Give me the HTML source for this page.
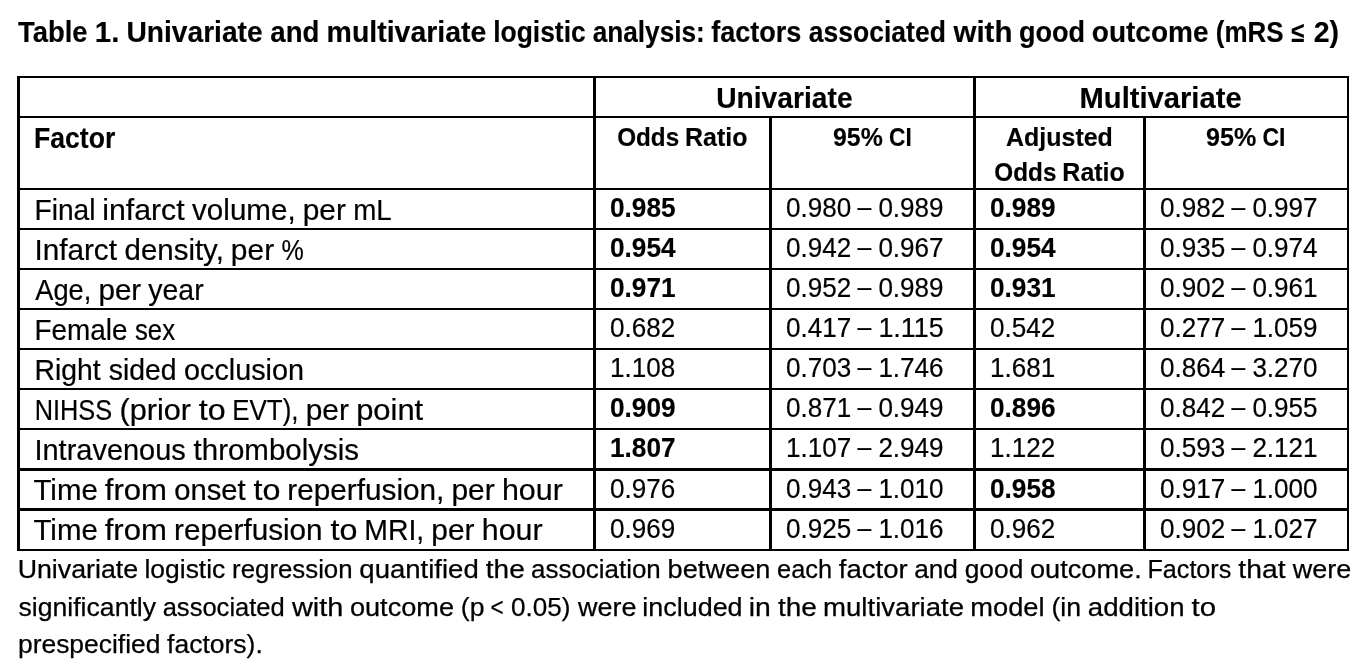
<!DOCTYPE html>
<html lang="en"><head><meta charset="utf-8">
<title>Table 1. Univariate and multivariate logistic analysis</title>
<style>*{margin:0;padding:0;box-sizing:border-box}
html,body{width:1366px;height:672px;overflow:hidden;background:#fff}
body{position:relative;font-family:"Liberation Sans",sans-serif;color:#000}
table{position:absolute;left:17px;top:76px;width:1332px;table-layout:fixed;border-collapse:separate;border-spacing:0}
td,th{padding:0;font-weight:normal;height:40px;border:0 solid #000;border-width:2px 0 0 3px}
td:last-child,th:last-child{border-right-width:2px}
.h2 th{height:72px}
.k td{border-top-width:3px}
.last td{height:43px;border-bottom-width:2px}
table .t{margin:-76px 0 0 -17px}
h1{font-size:inherit;font-weight:normal}
.t{position:absolute;white-space:pre;word-spacing:-0.277832em}
.w{display:inline-block;transform-origin:0 0;text-align:left}
.d{position:relative;top:-1px}
.b{font-weight:bold}
.big{font-size:28.6px;line-height:34px}
.sm{font-size:26.1px;line-height:31px}
.num{font-size:26.8px;line-height:32px}
.big{-webkit-text-stroke:0.2px #000}
.sm{-webkit-text-stroke:0.25px #000}
.num{-webkit-text-stroke:0.2px #000}
.b{-webkit-text-stroke:0.15px #000}
</style></head>
<body>
<h1><span class="t b big" style="left:18px;top:15px"><span class="w" style="width:76px;transform:scaleX(0.9589)">Table</span> <span class="w" style="width:32px;transform:translateX(0.80px) scaleX(1.0289)">1.</span> <span class="w" style="width:144px;transform:translateX(0.44px) scaleX(0.9850)">Univariate</span> <span class="w" style="width:56px;transform:translateX(0.27px) scaleX(0.9656)">and</span> <span class="w" style="width:167px;transform:translateX(0.59px) scaleX(0.9953)">multivariate</span> <span class="w" style="width:99px;transform:translateX(0.24px) scaleX(0.9234)">logistic</span> <span class="w" style="width:119px;transform:translateX(0.65px) scaleX(0.9167)">analysis:</span> <span class="w" style="width:97px;transform:translateX(0.23px) scaleX(0.9459)">factors</span> <span class="w" style="width:145px;transform:translateX(0.82px) scaleX(0.9271)">associated</span> <span class="w" style="width:66px;transform:translateX(0.45px) scaleX(1.0327)">with</span> <span class="w" style="width:72px;transform:translateX(0.03px) scaleX(0.9455)">good</span> <span class="w" style="width:124px;transform:translateX(0.79px) scaleX(0.9791)">outcome</span> <span class="w" style="width:76px;transform:translateX(0.80px) scaleX(0.9079)">(mRS</span> <span class="w" style="width:22px;transform:translateX(0.30px) scaleX(0.8375)">≤</span> <span class="w" style="transform:translateX(0.67px) scaleX(0.9971)">2)</span></span></h1>
<table><colgroup><col style="width:576px"><col style="width:176px"><col style="width:204px"><col style="width:170px"><col style="width:206px"></colgroup><thead>
<tr class="h1"><th></th><th colspan="2"><span class="t b big" style="left:716px;top:81px"><span class="w" style="transform:translateX(0.18px) scaleX(0.9865)">Univariate</span></span></th><th colspan="2"><span class="t b big" style="left:1079px;top:81px"><span class="w" style="transform:translateX(0.58px) scaleX(1.0196)">Multivariate</span></span></th></tr>
<tr class="h2"><th><span class="t b big" style="left:34px;top:121px"><span class="w" style="transform:translateX(0.04px) scaleX(0.9294)">Factor</span></span></th><th><span class="t b sm" style="left:617px;top:122px"><span class="w" style="width:68px;transform:translateX(0.14px) scaleX(0.9296)">Odds</span> <span class="w" style="transform:translateX(0.09px) scaleX(0.9568)">Ratio</span></span></th><th><span class="t b sm" style="left:833px;top:122px"><span class="w" style="width:56px;transform:translateX(0.02px) scaleX(0.9528)">95%</span> <span class="w" style="transform:scaleX(0.8713)">CI</span></span></th><th><span class="t b sm" style="left:1006px;top:122px"><span class="w" style="transform:translateX(0.01px) scaleX(0.9573)">Adjusted</span></span> <span class="t b sm" style="left:994px;top:157px"><span class="w" style="width:68px;transform:translateX(0.34px) scaleX(0.9303)">Odds</span> <span class="w" style="transform:translateX(0.34px) scaleX(0.9575)">Ratio</span></span></th><th><span class="t b sm" style="left:1206px;top:122px"><span class="w" style="width:56px;transform:translateX(0.02px) scaleX(0.9615)">95%</span> <span class="w" style="transform:translateX(0.51px) scaleX(0.8792)">CI</span></span></th></tr>
</thead><tbody>
<tr><td><span class="t big" style="left:34px;top:193px"><span class="w" style="width:68px;transform:translateX(0.50px) scaleX(0.9842)">Final</span> <span class="w" style="width:90px;transform:translateX(0.21px) scaleX(1.0581)">infarct</span> <span class="w" style="width:110px;transform:translateX(0.08px) scaleX(1.0343)">volume,</span> <span class="w" style="width:51px;transform:translateX(0.66px) scaleX(1.0456)">per</span> <span class="w" style="transform:translateX(0.27px) scaleX(0.9696)">mL</span></span></td><td><span class="t b num" style="left:610px;top:192px"><span class="w" style="transform:scaleX(0.9785)">0.985</span></span></td><td><span class="t num" style="left:786px;top:192px"><span class="w" style="width:71px;transform:scaleX(0.9722)">0.980</span> <span class="w d" style="width:21px;transform:translateX(0.57px) scaleX(0.9221)">–</span> <span class="w" style="transform:translateX(0.38px) scaleX(0.9722)">0.989</span></span></td><td><span class="t b num" style="left:990px;top:192px"><span class="w" style="transform:scaleX(0.9785)">0.989</span></span></td><td><span class="t num" style="left:1160px;top:192px"><span class="w" style="width:71px;transform:scaleX(0.9722)">0.982</span> <span class="w d" style="width:21px;transform:translateX(0.57px) scaleX(0.9221)">–</span> <span class="w" style="transform:translateX(0.38px) scaleX(0.9722)">0.997</span></span></td></tr>
<tr><td><span class="t big" style="left:34px;top:233px"><span class="w" style="width:90px;transform:translateX(0.38px) scaleX(1.0397)">Infarct</span> <span class="w" style="width:106px;transform:translateX(0.54px) scaleX(1.0296)">density,</span> <span class="w" style="width:51px;transform:translateX(0.85px) scaleX(1.0464)">per</span> <span class="w" style="transform:translateX(0.47px) scaleX(0.8761)">%</span></span></td><td><span class="t b num" style="left:610px;top:232px"><span class="w" style="transform:scaleX(0.9785)">0.954</span></span></td><td><span class="t num" style="left:786px;top:232px"><span class="w" style="width:71px;transform:scaleX(0.9722)">0.942</span> <span class="w d" style="width:21px;transform:translateX(0.57px) scaleX(0.9221)">–</span> <span class="w" style="transform:translateX(0.38px) scaleX(0.9722)">0.967</span></span></td><td><span class="t b num" style="left:990px;top:232px"><span class="w" style="transform:scaleX(0.9785)">0.954</span></span></td><td><span class="t num" style="left:1160px;top:232px"><span class="w" style="width:71px;transform:scaleX(0.9722)">0.935</span> <span class="w d" style="width:21px;transform:translateX(0.57px) scaleX(0.9221)">–</span> <span class="w" style="transform:translateX(0.38px) scaleX(0.9722)">0.974</span></span></td></tr>
<tr><td><span class="t big" style="left:35px;top:273px"><span class="w" style="width:63px;transform:translateX(0.20px) scaleX(0.9537)">Age,</span> <span class="w" style="width:50px;transform:translateX(0.40px) scaleX(1.0367)">per</span> <span class="w" style="transform:translateX(0.34px) scaleX(0.9939)">year</span></span></td><td><span class="t b num" style="left:610px;top:272px"><span class="w" style="transform:scaleX(0.9785)">0.971</span></span></td><td><span class="t num" style="left:786px;top:272px"><span class="w" style="width:71px;transform:scaleX(0.9722)">0.952</span> <span class="w d" style="width:21px;transform:translateX(0.57px) scaleX(0.9221)">–</span> <span class="w" style="transform:translateX(0.38px) scaleX(0.9722)">0.989</span></span></td><td><span class="t b num" style="left:990px;top:272px"><span class="w" style="transform:scaleX(0.9785)">0.931</span></span></td><td><span class="t num" style="left:1160px;top:272px"><span class="w" style="width:71px;transform:scaleX(0.9722)">0.902</span> <span class="w d" style="width:21px;transform:translateX(0.57px) scaleX(0.9221)">–</span> <span class="w" style="transform:translateX(0.38px) scaleX(0.9722)">0.961</span></span></td></tr>
<tr><td><span class="t big" style="left:34px;top:313px"><span class="w" style="width:100px;transform:translateX(0.52px) scaleX(0.9754)">Female</span> <span class="w" style="transform:translateX(0.99px) scaleX(0.9012)">sex</span></span></td><td><span class="t num" style="left:610px;top:312px"><span class="w" style="transform:scaleX(0.9722)">0.682</span></span></td><td><span class="t num" style="left:786px;top:312px"><span class="w" style="width:71px;transform:scaleX(0.9722)">0.417</span> <span class="w d" style="width:21px;transform:translateX(0.57px) scaleX(0.9221)">–</span> <span class="w" style="transform:translateX(0.38px) scaleX(1.0019)">1.115</span></span></td><td><span class="t num" style="left:990px;top:312px"><span class="w" style="transform:scaleX(0.9722)">0.542</span></span></td><td><span class="t num" style="left:1160px;top:312px"><span class="w" style="width:71px;transform:scaleX(0.9722)">0.277</span> <span class="w d" style="width:21px;transform:translateX(0.57px) scaleX(0.9221)">–</span> <span class="w" style="transform:translateX(0.38px) scaleX(0.9722)">1.059</span></span></td></tr>
<tr><td><span class="t big" style="left:34px;top:353px"><span class="w" style="width:74px;transform:translateX(0.48px) scaleX(0.9913)">Right</span> <span class="w" style="width:76px;transform:translateX(0.68px) scaleX(0.9929)">sided</span> <span class="w" style="transform:translateX(0.01px) scaleX(1.0065)">occlusion</span></span></td><td><span class="t num" style="left:610px;top:352px"><span class="w" style="transform:scaleX(0.9722)">1.108</span></span></td><td><span class="t num" style="left:786px;top:352px"><span class="w" style="width:71px;transform:scaleX(0.9722)">0.703</span> <span class="w d" style="width:21px;transform:translateX(0.57px) scaleX(0.9221)">–</span> <span class="w" style="transform:translateX(0.38px) scaleX(0.9722)">1.746</span></span></td><td><span class="t num" style="left:990px;top:352px"><span class="w" style="transform:scaleX(0.9722)">1.681</span></span></td><td><span class="t num" style="left:1160px;top:352px"><span class="w" style="width:71px;transform:scaleX(0.9722)">0.864</span> <span class="w d" style="width:21px;transform:translateX(0.57px) scaleX(0.9221)">–</span> <span class="w" style="transform:translateX(0.38px) scaleX(0.9722)">3.270</span></span></td></tr>
<tr><td><span class="t big" style="left:34px;top:393px"><span class="w" style="width:85px;transform:translateX(0.72px) scaleX(0.8861)">NIHSS</span> <span class="w" style="width:79px;transform:translateX(0.48px) scaleX(1.0726)">(prior</span> <span class="w" style="width:34px;transform:translateX(0.70px) scaleX(1.1271)">to</span> <span class="w" style="width:73px;transform:translateX(0.23px) scaleX(0.9063)">EVT),</span> <span class="w" style="width:51px;transform:translateX(0.74px) scaleX(1.0456)">per</span> <span class="w" style="transform:translateX(0.16px) scaleX(1.0809)">point</span></span></td><td><span class="t b num" style="left:610px;top:392px"><span class="w" style="transform:scaleX(0.9785)">0.909</span></span></td><td><span class="t num" style="left:786px;top:392px"><span class="w" style="width:71px;transform:scaleX(0.9722)">0.871</span> <span class="w d" style="width:21px;transform:translateX(0.57px) scaleX(0.9221)">–</span> <span class="w" style="transform:translateX(0.38px) scaleX(0.9722)">0.949</span></span></td><td><span class="t b num" style="left:990px;top:392px"><span class="w" style="transform:scaleX(0.9785)">0.896</span></span></td><td><span class="t num" style="left:1160px;top:392px"><span class="w" style="width:71px;transform:scaleX(0.9722)">0.842</span> <span class="w d" style="width:21px;transform:translateX(0.57px) scaleX(0.9221)">–</span> <span class="w" style="transform:translateX(0.38px) scaleX(0.9722)">0.955</span></span></td></tr>
<tr><td><span class="t big" style="left:34px;top:433px"><span class="w" style="width:159px;transform:translateX(0.44px) scaleX(1.0130)">Intravenous</span> <span class="w" style="transform:translateX(0.56px) scaleX(1.0307)">thrombolysis</span></span></td><td><span class="t b num" style="left:610px;top:432px"><span class="w" style="transform:scaleX(0.9785)">1.807</span></span></td><td><span class="t num" style="left:786px;top:432px"><span class="w" style="width:71px;transform:scaleX(0.9722)">1.107</span> <span class="w d" style="width:21px;transform:translateX(0.57px) scaleX(0.9221)">–</span> <span class="w" style="transform:translateX(0.38px) scaleX(0.9722)">2.949</span></span></td><td><span class="t num" style="left:990px;top:432px"><span class="w" style="transform:scaleX(0.9722)">1.122</span></span></td><td><span class="t num" style="left:1160px;top:432px"><span class="w" style="width:71px;transform:scaleX(0.9722)">0.593</span> <span class="w d" style="width:21px;transform:translateX(0.57px) scaleX(0.9221)">–</span> <span class="w" style="transform:translateX(0.38px) scaleX(0.9722)">2.121</span></span></td></tr>
<tr class="k"><td><span class="t big" style="left:33px;top:473px"><span class="w" style="width:71px;transform:translateX(0.44px) scaleX(1.0315)">Time</span> <span class="w" style="width:70px;transform:translateX(0.77px) scaleX(1.0877)">from</span> <span class="w" style="width:79px;transform:translateX(0.15px) scaleX(1.0217)">onset</span> <span class="w" style="width:34px;transform:translateX(0.60px) scaleX(1.1291)">to</span> <span class="w" style="width:164px;transform:translateX(0.36px) scaleX(1.0399)">reperfusion,</span> <span class="w" style="width:50px;transform:translateX(0.42px) scaleX(1.0474)">per</span> <span class="w" style="transform:translateX(0.95px) scaleX(1.0638)">hour</span></span></td><td><span class="t num" style="left:610px;top:473px"><span class="w" style="transform:scaleX(0.9722)">0.976</span></span></td><td><span class="t num" style="left:786px;top:473px"><span class="w" style="width:71px;transform:scaleX(0.9722)">0.943</span> <span class="w d" style="width:21px;transform:translateX(0.57px) scaleX(0.9221)">–</span> <span class="w" style="transform:translateX(0.38px) scaleX(0.9722)">1.010</span></span></td><td><span class="t b num" style="left:990px;top:473px"><span class="w" style="transform:scaleX(0.9785)">0.958</span></span></td><td><span class="t num" style="left:1160px;top:473px"><span class="w" style="width:71px;transform:scaleX(0.9722)">0.917</span> <span class="w d" style="width:21px;transform:translateX(0.57px) scaleX(0.9221)">–</span> <span class="w" style="transform:translateX(0.38px) scaleX(0.9722)">1.000</span></span></td></tr>
<tr class="k last"><td><span class="t big" style="left:33px;top:513px"><span class="w" style="width:71px;transform:translateX(0.44px) scaleX(1.0304)">Time</span> <span class="w" style="width:70px;transform:translateX(0.69px) scaleX(1.0866)">from</span> <span class="w" style="width:156px;transform:translateX(0.05px) scaleX(1.0387)">reperfusion</span> <span class="w" style="width:34px;transform:translateX(0.43px) scaleX(1.1279)">to</span> <span class="w" style="width:67px;transform:translateX(0.28px) scaleX(0.9932)">MRI,</span> <span class="w" style="width:50px;transform:translateX(0.34px) scaleX(1.0463)">per</span> <span class="w" style="transform:translateX(0.82px) scaleX(1.0627)">hour</span></span></td><td><span class="t num" style="left:610px;top:513px"><span class="w" style="transform:scaleX(0.9722)">0.969</span></span></td><td><span class="t num" style="left:786px;top:513px"><span class="w" style="width:71px;transform:scaleX(0.9722)">0.925</span> <span class="w d" style="width:21px;transform:translateX(0.57px) scaleX(0.9221)">–</span> <span class="w" style="transform:translateX(0.38px) scaleX(0.9722)">1.016</span></span></td><td><span class="t num" style="left:990px;top:513px"><span class="w" style="transform:scaleX(0.9722)">0.962</span></span></td><td><span class="t num" style="left:1160px;top:513px"><span class="w" style="width:71px;transform:scaleX(0.9722)">0.902</span> <span class="w d" style="width:21px;transform:translateX(0.57px) scaleX(0.9221)">–</span> <span class="w" style="transform:translateX(0.38px) scaleX(0.9722)">1.027</span></span></td></tr>
</tbody></table>
<p><span class="t sm" style="left:17px;top:554px"><span class="w" style="width:127px;transform:translateX(0.63px) scaleX(1.0252)">Univariate</span> <span class="w" style="width:88px;transform:translateX(0.48px) scaleX(1.0133)">logistic</span> <span class="w" style="width:127px;transform:translateX(0.08px) scaleX(0.9890)">regression</span> <span class="w" style="width:126px;transform:translateX(0.32px) scaleX(1.0552)">quantified</span> <span class="w" style="width:46px;transform:translateX(0.80px) scaleX(1.0729)">the</span> <span class="w" style="width:136px;transform:translateX(0.01px) scaleX(0.9941)">association</span> <span class="w" style="width:110px;transform:translateX(0.60px) scaleX(1.0416)">between</span> <span class="w" style="width:61px;transform:translateX(0.09px) scaleX(0.9731)">each</span> <span class="w" style="width:76px;transform:translateX(0.87px) scaleX(1.0528)">factor</span> <span class="w" style="width:50px;transform:translateX(0.18px) scaleX(1.0054)">and</span> <span class="w" style="width:65px;transform:translateX(0.70px) scaleX(1.0090)">good</span> <span class="w" style="width:118px;transform:translateX(0.99px) scaleX(1.0412)">outcome.</span> <span class="w" style="width:91px;transform:translateX(0.53px) scaleX(0.9625)">Factors</span> <span class="w" style="width:54px;transform:translateX(0.37px) scaleX(1.0834)">that</span> <span class="w" style="transform:translateX(0.75px) scaleX(1.0331)">were</span></span>
<span class="t sm" style="left:18px;top:592px"><span class="w" style="width:144px;transform:translateX(0.48px) scaleX(1.0199)">significantly</span> <span class="w" style="width:129px;transform:translateX(0.67px) scaleX(0.9787)">associated</span> <span class="w" style="width:58px;transform:translateX(0.94px) scaleX(1.1081)">with</span> <span class="w" style="width:111px;transform:translateX(0.92px) scaleX(1.0401)">outcome</span> <span class="w" style="width:30px;transform:translateX(0.82px) scaleX(1.0177)">(p</span> <span class="w" style="width:21px;transform:translateX(0.44px) scaleX(0.8606)">&lt;</span> <span class="w" style="width:67px;transform:translateX(0.04px) scaleX(0.9989)">0.05)</span> <span class="w" style="width:64px;transform:translateX(0.02px) scaleX(1.0323)">were</span> <span class="w" style="width:106px;transform:translateX(0.32px) scaleX(1.0316)">included</span> <span class="w" style="width:29px;transform:translateX(0.81px) scaleX(1.0877)">in</span> <span class="w" style="width:46px;transform:translateX(0.89px) scaleX(1.0721)">the</span> <span class="w" style="width:147px;transform:translateX(0.05px) scaleX(1.0566)">multivariate</span> <span class="w" style="width:81px;transform:translateX(0.35px) scaleX(1.0435)">model</span> <span class="w" style="width:36px;transform:translateX(0.43px) scaleX(1.0258)">(in</span> <span class="w" style="width:104px;transform:translateX(0.85px) scaleX(1.0582)">addition</span> <span class="w" style="transform:translateX(0.62px) scaleX(1.1239)">to</span></span>
<span class="t sm" style="left:17px;top:629px"><span class="w" style="width:150px;transform:translateX(0.95px) scaleX(1.0125)">prespecified</span> <span class="w" style="transform:translateX(0.07px) scaleX(1.0155)">factors).</span></span></p>
</body></html>
